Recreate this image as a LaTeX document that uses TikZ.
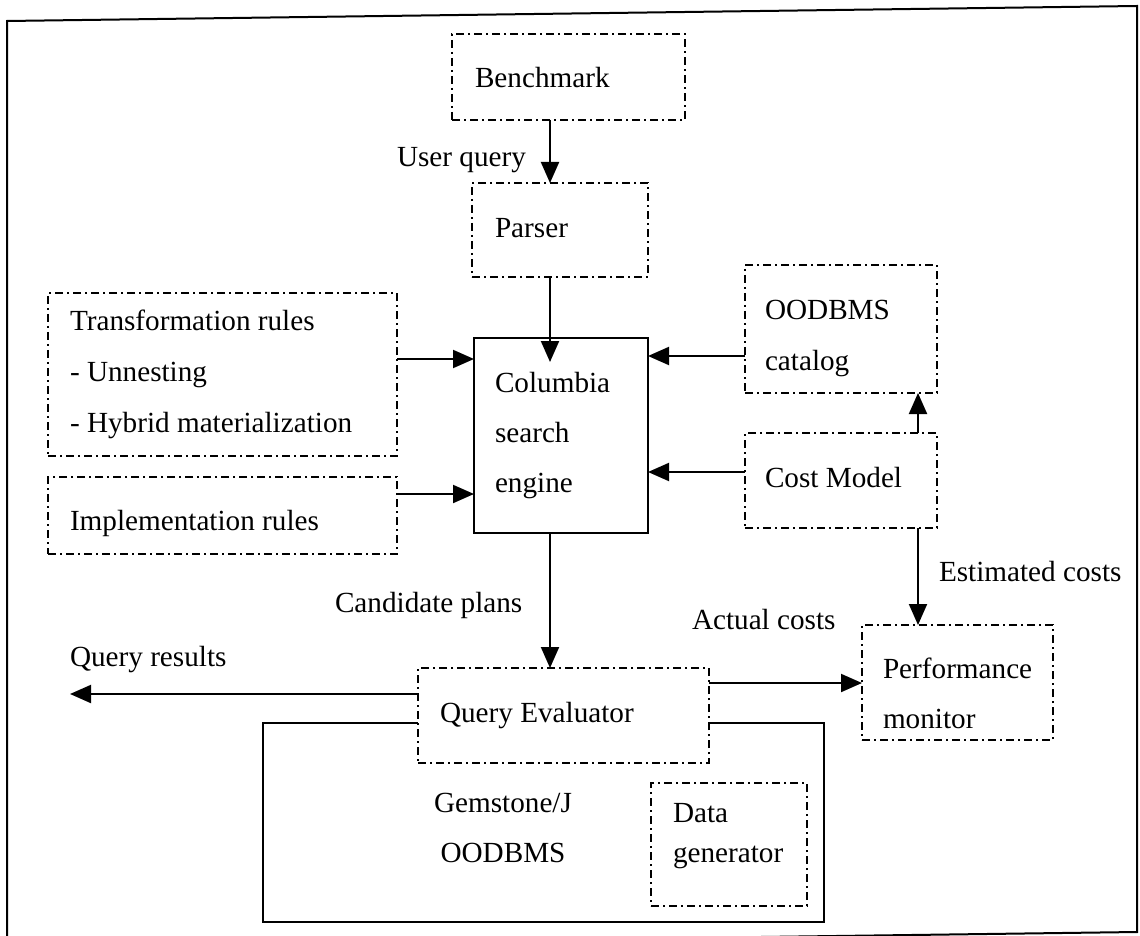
\documentclass[tikz,border=0pt]{standalone}
\usepackage{fontspec}
\setmainfont{Liberation Serif}
\usetikzlibrary{arrows.meta}
\begin{document}
\begin{tikzpicture}[x=0.5pt,y=-0.5pt,
  every node/.style={inner sep=0pt, outer sep=0pt},
  dbox/.style={draw, line width=1.2pt, dash pattern=on 4pt off 2pt on 1pt off 2pt, fill=white},
  sbox/.style={draw, line width=1.2pt},
  txt/.style={anchor=base west, align=left, font=\fontsize{14.6pt}{25pt}\selectfont},
  ctxt/.style={anchor=base, align=center, font=\fontsize{14.6pt}{25pt}\selectfont},
  arr/.style={line width=1pt, -{Triangle[length=10.5pt,width=9pt]}}]

\useasboundingbox (0,0) rectangle (1140,936);
\clip (0,0) rectangle (1140,936);

% outer frame
\draw[line width=1pt] (7,21) -- (1137,6) -- (1137,932) -- (7,947) -- cycle;

% boxes
\node[dbox, minimum width=116.5pt, minimum height=43pt]   (bench)   at (568.5,77)  {};
\node[dbox, minimum width=88pt,    minimum height=47pt]   (parser)  at (560,230)   {};
\node[sbox, minimum width=87pt,    minimum height=97.5pt] (colum)   at (561,435.5) {};
\node[dbox, minimum width=174.5pt, minimum height=81.5pt] (transf)  at (222.5,374.5) {};
\node[dbox, minimum width=174.5pt, minimum height=38.5pt] (impl)    at (222.5,515.5) {};
\node[dbox, minimum width=96pt,    minimum height=64pt]   (catalog) at (841,329)   {};
\node[dbox, minimum width=96pt,    minimum height=47.5pt] (cost)    at (841,480.5) {};
\node[dbox, minimum width=95.5pt,  minimum height=57.5pt] (perf)    at (957.5,682.5) {};
\node[sbox, minimum width=280.5pt, minimum height=99.5pt] (gem)     at (543.5,822.5) {};
\node[dbox, minimum width=145.5pt, minimum height=47.5pt] (qe)      at (563.5,715.5) {};
\node[dbox, minimum width=78pt,    minimum height=61.5pt] (datagen) at (729,844.5) {};

% box texts (multi-line texts sit on the baseline of their last line)
\node[txt] (benchtxt)   at (475,88)  {Benchmark};
\node[txt] (parsertxt)  at (495,238) {Parser};
\node[txt] (columtxt)   at (495,492) {Columbia\\search\\engine};
\node[txt, font=\fontsize{14.6pt}{25.5pt}\selectfont] (transftxt) at (70,432)
  {Transformation rules\\- Unnesting\\- Hybrid materialization};
\node[txt] (impltxt)    at (70,530)  {Implementation rules};
\node[txt] (catalogtxt) at (765,370) {OODBMS\\catalog};
\node[txt] (costtxt)    at (765,487) {Cost Model};
\node[txt] (perftxt)    at (883,728) {Performance\\monitor};
\node[txt] (qetxt)      at (440,722) {Query Evaluator};
\node[ctxt] (gemtxt)    at (503,862) {Gemstone/J\\OODBMS};
\node[txt, font=\fontsize{14.6pt}{20pt}\selectfont] (datatxt) at (673,862) {Data\\generator};

% connector labels
\node[txt] (lquery) at (397,167) {User query};
\node[txt] (lcand)  at (335,612) {Candidate plans};
\node[txt] (lres)   at (70,666)  {Query results};
\node[txt] (lact)   at (692,629) {Actual costs};
\node[txt] (lest)   at (939,581) {Estimated costs};

% connector positions
\coordinate (vx) at (550,0);
\coordinate (cx) at (918,0);
\coordinate (colin) at (550,362);
\coordinate (yt) at (0,359);
\coordinate (yi) at (0,494);
\coordinate (yc) at (0,356);
\coordinate (ym) at (0,472);
\coordinate (yp) at (0,683);
\coordinate (qr) at (70,694);

% connectors
\draw[arr] (bench.south -| vx) -- (parser.north -| vx);
\draw[arr] (parser.south -| vx) -- (colin);
\draw[arr] (colum.south -| vx) -- (qe.north -| vx);
\draw[arr] (transf.east |- yt) -- (colum.west |- yt);
\draw[arr] (impl.east |- yi) -- (colum.west |- yi);
\draw[arr] (catalog.west |- yc) -- (colum.east |- yc);
\draw[arr] (cost.west |- ym) -- (colum.east |- ym);
\draw[arr] (cost.north -| cx) -- (catalog.south -| cx);
\draw[arr] (cost.south -| cx) -- (perf.north -| cx);
\draw[arr] (qe.east |- yp) -- (perf.west |- yp);
\draw[arr] (qe.west |- qr) -- (qr);

\end{tikzpicture}
\end{document}
